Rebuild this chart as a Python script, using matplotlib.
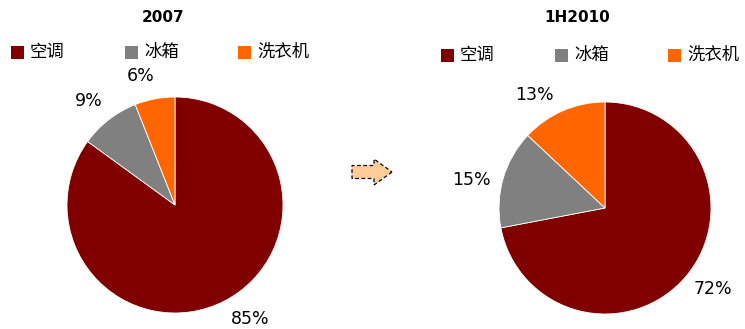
import matplotlib.pyplot as plt
from matplotlib.patches import Rectangle, FancyArrow

plt.rcParams['font.family'] = ['Noto Sans CJK SC', 'DejaVu Sans']

# =================================
# DATA
# =================================

categories = ["空调", "冰箱", "洗衣机"]
colors = ["#800000", "#808080", "#FF6600"]

share_2007 = [85, 9, 6]
share_1h2010 = [72, 15, 13]

titles = ["2007", "1H2010"]

W, H = 745, 329
fig = plt.figure(figsize=(W / 100, H / 100), dpi=100)


def px_axes(cx, cy, r):
    # axes box in pixel terms (y from top)
    return fig.add_axes([(cx - r) / W, (H - cy - r) / H, 2 * r / W, 2 * r / H])


def draw_pie(ax, values, r, nudges):
    _, texts = ax.pie(
        values,
        colors=colors,
        startangle=90,
        counterclock=False,
        labels=[f"{v}%" for v in values],
        labeldistance=1.22,
        wedgeprops=dict(edgecolor="white", linewidth=0.6),
        textprops=dict(fontsize=12.5, family="DejaVu Sans"),
    )
    # small hand shifts of the percent labels (pixels)
    for t, (dx, dy) in zip(texts, nudges):
        x, y = t.get_position()
        t.set_position((x + dx / r, y - dy / r))
    ax.set_xlim(-1, 1)
    ax.set_ylim(-1, 1)
    ax.set_aspect("equal")
    ax.axis("off")


ax1 = px_axes(175, 205, 108)
draw_pie(ax1, share_2007, 108, [(-4, -3), (8, 0), (4, 0)])

ax2 = px_axes(605, 208, 106)
draw_pie(ax2, share_1h2010, 106, [(-11, -1), (10, 8), (0, 6)])

# titles
fig.text(163 / W, 1 - 17 / H, titles[0], ha="center", va="center",
         fontsize=11, fontweight="bold", family="DejaVu Sans")
fig.text(577 / W, 1 - 17 / H, titles[1], ha="center", va="center",
         fontsize=11, fontweight="bold", family="DejaVu Sans")


# legends
def draw_legend(x_positions, y):
    for x, name, c in zip(x_positions, categories, colors):
        fig.patches.append(Rectangle((x / W, 1 - (y + 6.5) / H), 13 / W, 13 / H,
                                     facecolor=c, edgecolor="none",
                                     transform=fig.transFigure))
        fig.text((x + 19) / W, 1 - y / H, name, ha="left", va="center",
                 fontsize=12.5)


draw_legend([11, 125, 238], 52)
draw_legend([441, 555, 668], 55)

# arrow between the two pies
arrow = FancyArrow(352 / W, 1 - 172 / H, 22 / W, 0,
                   width=13 / H, head_width=26 / H, head_length=18 / W,
                   length_includes_head=False,
                   facecolor="#FFCC99", edgecolor="black", linestyle=(0, (3, 2)),
                   linewidth=0.9, transform=fig.transFigure)
fig.patches.append(arrow)

plt.savefig("out.png", dpi=100)
